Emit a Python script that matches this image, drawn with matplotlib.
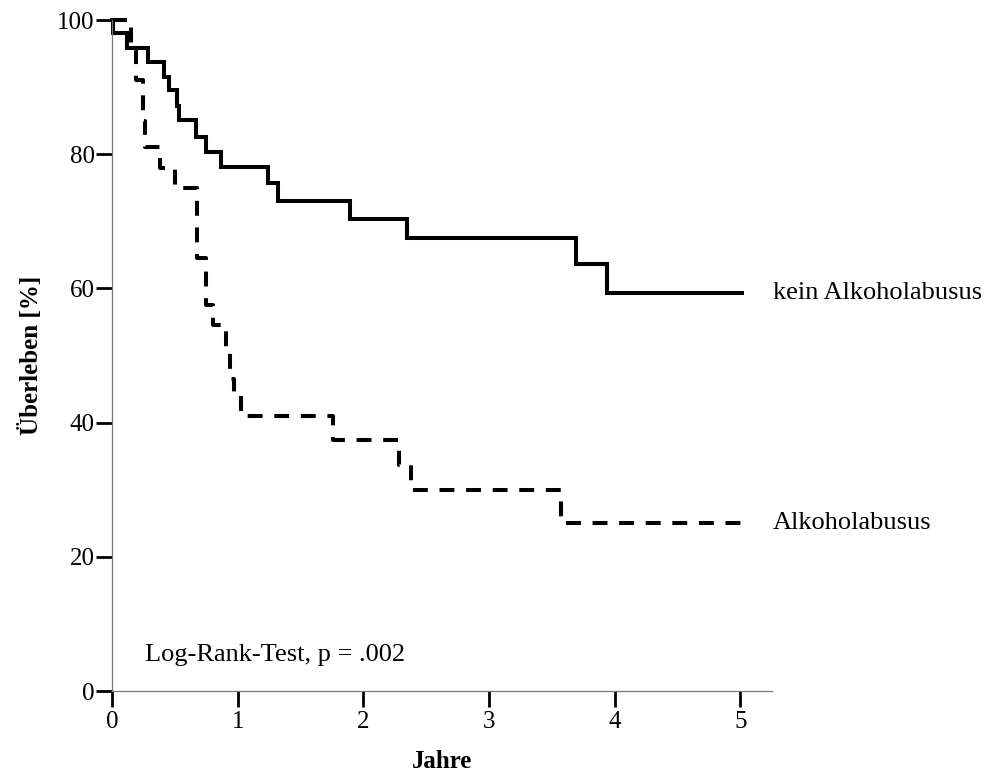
import matplotlib
matplotlib.use("Agg")
import matplotlib.pyplot as plt

# Kaplan-Meier step data (years, survival in %)
KEIN_T = [0, 0.01, 0.12, 0.29, 0.41, 0.45, 0.52, 0.53, 0.67, 0.75, 0.87,
          1.24, 1.32, 1.89, 2.35, 3.69, 3.94, 5.01]
KEIN_S = [100, 98.0, 95.9, 93.8, 91.5, 89.6, 87.2, 85.1, 82.6, 80.4, 78.1,
          75.7, 73.1, 70.3, 67.5, 63.7, 59.3, 59.3]

ALK_T = [0, 0.15, 0.19, 0.25, 0.26, 0.38, 0.50, 0.68, 0.75, 0.80, 0.91,
         0.94, 0.97, 1.03, 1.76, 2.28, 2.38, 3.57, 5.01]
ALK_S = [100, 95.5, 91.0, 85.0, 81.1, 78.0, 75.0, 64.5, 57.5, 54.5, 51.0,
         46.5, 44.2, 41.0, 37.4, 33.7, 30.0, 25.0, 25.0]

GROUP_LABELS = ["kein Alkoholabusus", "Alkoholabusus"]
X_TICKS = [0, 1, 2, 3, 4, 5]
Y_TICKS = [0, 20, 40, 60, 80, 100]
ANNOTATION = "Log-Rank-Test, p = .002"

plt.rcParams["font.family"] = ["Liberation Serif", "DejaVu Serif"]

fig = plt.figure(figsize=(9.87, 7.76), dpi=100)
ax = fig.add_axes([0.1135, 0.1095, 0.782 - 0.1135, 0.9742 - 0.1095])

lw = 2.9
ax.step(KEIN_T, KEIN_S, where="post", color="black", linewidth=lw,
        solid_joinstyle="miter", clip_on=False)
ax.step(ALK_T, ALK_S, where="post", color="black", linewidth=lw,
        linestyle=(0, (3.7, 2.9)), clip_on=False)

ax.set_xlim(0, 5.25)
ax.set_ylim(0, 100)
ax.set_xticks(X_TICKS)
ax.set_yticks(Y_TICKS)

for side in ["top", "right"]:
    ax.spines[side].set_visible(False)
for side in ["left", "bottom"]:
    ax.spines[side].set_color("#777777")
    ax.spines[side].set_linewidth(0.9)

ax.tick_params(axis="both", direction="out", length=11.5, width=2.0,
               color="black", labelsize=18)
ax.tick_params(axis="x", pad=3)
ax.tick_params(axis="y", pad=1)

ax.set_xlabel("Jahre", fontsize=18, fontweight="bold", labelpad=12)
ax.set_ylabel("Überleben [%]", fontsize=18, fontweight="bold", labelpad=10)

ax.text(5.26, KEIN_S[-1], GROUP_LABELS[0], fontsize=19,
        ha="left", va="center", clip_on=False)
ax.text(5.26, ALK_S[-1], GROUP_LABELS[1], fontsize=19,
        ha="left", va="center", clip_on=False)
ax.text(0.26, 5.4, ANNOTATION, fontsize=19, ha="left", va="center")

fig.savefig("out.png", dpi=100)
